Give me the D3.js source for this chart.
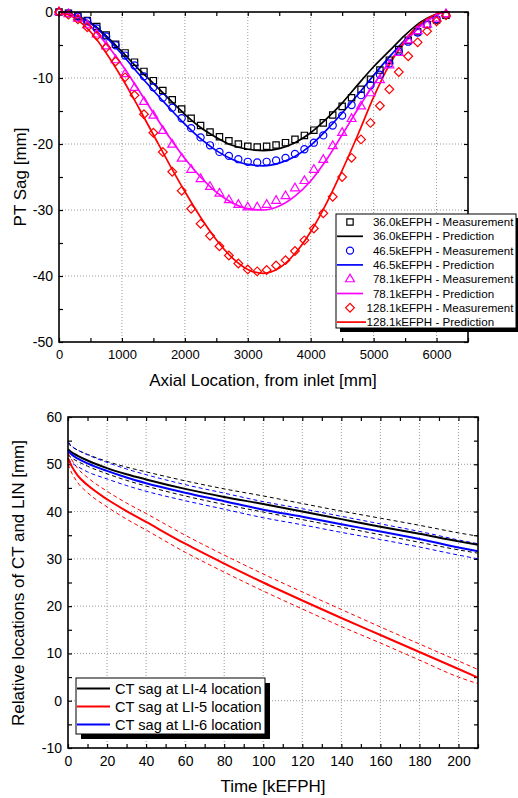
<!DOCTYPE html>
<html>
<head>
<meta charset="utf-8">
<script src="https://cdn.jsdelivr.net/npm/d3@7"></script>
<style>
  body { margin: 0; background: #fff; }
  svg { display: block; font-family: "Liberation Sans", Arial, sans-serif; }
  svg text { font-family: "Liberation Sans", Arial, sans-serif; }
  .grid line { stroke: #9a9a9a; stroke-width: 1; stroke-dasharray: 1,2; }
  .axis path { display: none; }
  .axis line { stroke: #000; stroke-width: 1.2; }
</style>
</head>
<body>
<script>
// ---------- top chart data: PT sag along axial location ----------
const measX = [0, 150, 300, 450, 600, 750, 900, 1050, 1200, 1350, 1500, 1650, 1800, 1950, 2100,
  2250, 2400, 2550, 2700, 2850, 3000, 3150, 3300, 3450, 3600, 3750, 3900, 4050, 4200, 4350,
  4500, 4650, 4800, 4950, 5100, 5250, 5400, 5550, 5700, 5850, 6000, 6150];

const meas36 = [0, -0.2, -0.6, -1.3, -2.2, -3.5, -4.9, -6.2, -7.6, -9.0, -10.4, -11.9, -13.3, -14.7, -16.1,
  -17.2, -18.2, -18.9, -19.5, -20.0, -20.35, -20.45, -20.35, -20.15, -19.8, -19.3, -18.7, -17.9, -16.8, -15.6,
  -14.3, -13.0, -11.7, -10.2, -8.8, -7.3, -5.7, -4.3, -3.0, -1.9, -1.2, -0.5];
const meas46 = [0, -0.2, -0.7, -1.4, -2.5, -3.7, -5.05, -6.6, -8.1, -9.75, -11.4, -13.0, -14.5, -16.1, -17.6,
  -19.0, -20.2, -21.2, -21.8, -22.3, -22.7, -22.8, -22.7, -22.5, -22.1, -21.5, -20.8, -19.8, -18.7, -17.2,
  -15.7, -14.1, -12.6, -11.1, -9.5, -7.8, -6.0, -4.5, -3.1, -1.9, -1.1, -0.4];
const meas78 = [0, -0.3, -1.0, -2.0, -3.4, -5.2, -7.3, -9.4, -11.5, -13.6, -15.7, -18.0, -20.1, -22.2, -23.9,
  -25.3, -26.5, -27.5, -28.5, -29.2, -29.6, -29.6, -29.2, -28.6, -27.9, -26.7, -25.6, -23.9, -22.4, -20.3,
  -18.3, -16.2, -14.3, -12.3, -10.3, -8.1, -6.2, -4.3, -2.9, -1.9, -1.0, -0.3];
const meas128 = [0, -0.4, -1.1, -2.3, -3.6, -5.4, -7.5, -9.9, -12.6, -15.5, -18.3, -21.2, -24.2, -27.1, -29.8,
  -32.1, -33.9, -35.5, -36.9, -38.1, -39.0, -39.3, -39.1, -38.4, -37.6, -36.2, -34.6, -32.8, -30.5, -28.0,
  -25.0, -22.1, -19.3, -16.8, -14.2, -11.7, -9.1, -6.7, -4.6, -2.9, -1.4, -0.5];

const predX = [0, 250, 500, 750, 1000, 1250, 1500, 1750, 2000, 2250, 2500, 2750, 3000,
  3250, 3500, 3750, 4000, 4250, 4500, 4750, 5000, 5250, 5500, 5750, 6000, 6100];
const pred36 = [0, -0.5, -1.6, -3.6, -6.0, -8.5, -10.8, -13.2, -15.5, -17.5, -19.0, -20.2, -20.8,
  -21.0, -20.7, -19.8, -18.3, -16.2, -13.8, -11.0, -8.3, -5.9, -3.5, -1.5, -0.3, 0];
const pred46 = [0, -0.5, -1.7, -3.8, -6.4, -9.2, -11.9, -14.5, -17.0, -19.2, -21.0, -22.3, -23.1,
  -23.3, -22.9, -21.9, -20.2, -17.9, -15.3, -12.5, -9.6, -6.8, -4.2, -1.9, -0.4, 0];
const pred78 = [0, -0.6, -2.2, -4.8, -8.0, -11.6, -15.3, -18.9, -22.2, -25.0, -27.3, -28.9, -29.8,
  -30.0, -29.4, -27.9, -25.6, -22.4, -18.6, -14.7, -11.0, -7.6, -4.6, -2.1, -0.5, 0];
const pred128 = [0, -0.9, -3.0, -6.2, -10.0, -14.2, -18.6, -23.0, -27.2, -31.1, -34.5, -37.2, -39.0,
  -39.6, -38.8, -36.6, -33.3, -29.0, -24.0, -18.6, -12.9, -8.0, -4.3, -1.7, -0.3, 0];

const topXTicks = [0, 1000, 2000, 3000, 4000, 5000, 6000];
const topYTicks = [0, -10, -20, -30, -40, -50];

// ---------- bottom chart data: CT sag vs time ----------
const timeK = [0, 2, 5, 10, 20, 30, 40, 60, 80, 100, 120, 140, 160, 180, 200, 210];
const li4    = [53.2, 52.5, 51.8, 50.8, 49.2, 47.9, 46.8, 44.8, 43.1, 41.6, 40.0, 38.4, 36.8, 35.3, 33.7, 33.0];
const li4Hi  = [54.4, 53.7, 53.0, 52.1, 50.6, 49.4, 48.4, 46.5, 44.8, 43.3, 41.7, 40.1, 38.6, 37.1, 35.5, 34.8];
const li4Lo  = [52.0, 51.3, 50.6, 49.6, 48.0, 46.6, 45.4, 43.3, 41.5, 39.9, 38.3, 36.7, 35.1, 33.5, 31.9, 31.2];
const li5    = [51.3, 49.5, 47.6, 45.6, 42.6, 40.1, 37.8, 33.2, 29.0, 25.0, 21.2, 17.5, 13.9, 10.3, 6.7, 4.9];
const li5Hi  = [52.4, 50.9, 49.1, 47.2, 44.3, 41.8, 39.6, 35.0, 30.8, 26.8, 23.0, 19.3, 15.6, 12.0, 8.4, 6.6];
const li5Lo  = [50.0, 48.1, 46.1, 44.0, 41.0, 38.4, 36.1, 31.4, 27.2, 23.2, 19.4, 15.7, 12.2, 8.6, 5.0, 3.6];
const li6    = [52.9, 52.0, 51.2, 50.2, 48.6, 47.2, 46.0, 44.0, 42.2, 40.4, 38.9, 37.3, 35.8, 34.2, 32.4, 31.6];
const li6Hi  = [54.8, 53.8, 53.0, 52.0, 50.4, 49.0, 47.8, 45.7, 43.9, 42.1, 40.6, 39.0, 37.4, 35.8, 34.0, 33.2];
const li6Lo  = [51.2, 50.3, 49.5, 48.4, 46.9, 45.5, 44.3, 42.3, 40.5, 38.7, 37.2, 35.6, 34.1, 32.5, 30.8, 30.0];

const botXTicks = [0, 20, 40, 60, 80, 100, 120, 140, 160, 180, 200];
const botYTicks = [60, 50, 40, 30, 20, 10, 0, -10];

const FONT = "'Liberation Sans', Arial, sans-serif";

const svg = d3.select("body").append("svg")
    .attr("width", 518)
    .attr("height", 798);

// shared frame + axes helper
function drawFrame(g, x, y, xMinor, yMinor, xMajor, yMajor, xFont, yFont) {
    const [x0, x1] = x.range();
    const [y0, y1] = y.range();   // y0 bottom, y1 top

    // grid
    const grid = g.append("g").attr("class", "grid");
    grid.selectAll(".gv").data(xMajor.filter(d => x(d) > x0 + 1 && x(d) < x1 - 1)).join("line")
        .attr("x1", d => x(d)).attr("x2", d => x(d)).attr("y1", y0).attr("y2", y1);
    grid.selectAll(".gh").data(yMajor.filter(d => y(d) < y0 - 1 && y(d) > y1 + 1)).join("line")
        .attr("y1", d => y(d)).attr("y2", d => y(d)).attr("x1", x0).attr("x2", x1);

    // ticks pointing inward on all four sides
    g.append("g").attr("class", "axis").attr("transform", `translate(0,${y0})`)
        .call(d3.axisBottom(x).tickValues(xMinor).tickSizeInner(-4).tickSizeOuter(0).tickFormat(""));
    g.append("g").attr("class", "axis").attr("transform", `translate(0,${y1})`)
        .call(d3.axisTop(x).tickValues(xMinor).tickSizeInner(-4).tickSizeOuter(0).tickFormat(""));
    g.append("g").attr("class", "axis").attr("transform", `translate(${x0},0)`)
        .call(d3.axisLeft(y).tickValues(yMinor).tickSizeInner(-4).tickSizeOuter(0).tickFormat(""));
    g.append("g").attr("class", "axis").attr("transform", `translate(${x1},0)`)
        .call(d3.axisRight(y).tickValues(yMinor).tickSizeInner(-4).tickSizeOuter(0).tickFormat(""));

    // labels
    g.append("g").attr("transform", `translate(0,${y0})`)
        .call(d3.axisBottom(x).tickValues(xMajor).tickSize(0).tickPadding(8).tickFormat(d3.format("d")))
        .call(a => a.select(".domain").remove())
        .attr("font-family", FONT)
        .selectAll("text").style("font-size", xFont + "px").attr("fill", "#000");
    g.append("g").attr("transform", `translate(${x0},0)`)
        .call(d3.axisLeft(y).tickValues(yMajor).tickSize(0).tickPadding(6).tickFormat(d => d3.format("d")(d).replace("−", "-")))
        .call(a => a.select(".domain").remove())
        .attr("font-family", FONT)
        .selectAll("text").style("font-size", yFont + "px").attr("fill", "#000");
}

function drawBorder(g, x, y) {
    const [x0, x1] = x.range();
    const [y0, y1] = y.range();
    g.append("rect")
        .attr("x", x0).attr("y", y1)
        .attr("width", x1 - x0).attr("height", y0 - y1)
        .attr("fill", "none").attr("stroke", "#000").attr("stroke-width", 1.6);
}

// ================= TOP CHART =================
const xT = d3.scaleLinear().domain([0, 6500]).range([59, 468]);
const yT = d3.scaleLinear().domain([-50, 0]).range([342, 12]);
const gT = svg.append("g");

drawFrame(gT, xT, yT, d3.range(0, 6501, 500), d3.range(-50, 1, 5), topXTicks, topYTicks, 13, 14);

const topSeries = [
    { name: "36.0", color: "#000000", meas: meas36, pred: pred36, sym: "square" },
    { name: "46.5", color: "#0000ff", meas: meas46, pred: pred46, sym: "circle" },
    { name: "78.1", color: "#ff00ff", meas: meas78, pred: pred78, sym: "triangle" },
    { name: "128.1", color: "#ff0000", meas: meas128, pred: pred128, sym: "diamond" }
];

function markerPath(sym) {
    if (sym === "square") return d3.symbol(d3.symbolSquare, 40)();
    if (sym === "circle") return d3.symbol(d3.symbolCircle, 40)();
    if (sym === "triangle") return d3.symbol(d3.symbolTriangle, 34)();
    return d3.symbol(d3.symbolSquare, 38)();
}

const lineT = d3.line().curve(d3.curveMonotoneX);

topSeries.forEach(s => {
    gT.append("path")
        .attr("d", lineT(predX.map((v, i) => [xT(v), yT(s.pred[i])])))
        .attr("fill", "none").attr("stroke", s.color).attr("stroke-width", 1.7);
});

topSeries.forEach(s => {
    gT.append("g").selectAll("path").data(measX.map((v, i) => [v, s.meas[i]])).join("path")
        .attr("d", markerPath(s.sym))
        .attr("transform", d => `translate(${xT(d[0])},${yT(d[1])})` + (s.sym === "diamond" ? " rotate(45)" : ""))
        .attr("fill", "none").attr("stroke", s.color).attr("stroke-width", 1.2);
});

drawBorder(gT, xT, yT);

gT.append("text")
    .attr("x", 263).attr("y", 386)
    .attr("text-anchor", "middle")
    .style("font-size", "17px")
    .text("Axial Location, from inlet [mm]");

gT.append("text")
    .attr("transform", "translate(26,177) rotate(-90)")
    .attr("text-anchor", "middle")
    .style("font-size", "17px")
    .text("PT Sag [mm]");

// legend (top)
const legT = gT.append("g");
legT.append("rect").attr("x", 340).attr("y", 218).attr("width", 180).attr("height", 114).attr("fill", "#000");
legT.append("rect").attr("x", 336).attr("y", 214).attr("width", 180).attr("height", 114)
    .attr("fill", "#fff").attr("stroke", "#000").attr("stroke-width", 1);
const legRows = [];
topSeries.forEach(s => {
    legRows.push({ s, kind: "meas", label: "kEFPH - Measurement" });
    legRows.push({ s, kind: "pred", label: "kEFPH - Prediction" });
});
legRows.forEach((r, i) => {
    const cy = 222 + i * 14.3;
    if (r.kind === "meas") {
        legT.append("path")
            .attr("d", markerPath(r.s.sym))
            .attr("transform", `translate(350,${cy})` + (r.s.sym === "diamond" ? " rotate(45)" : ""))
            .attr("fill", "none").attr("stroke", r.s.color).attr("stroke-width", 1.2);
    } else {
        legT.append("line").attr("x1", 337).attr("x2", r.s.name === "128.1" ? 366 : 363)
            .attr("y1", cy).attr("y2", cy)
            .attr("stroke", r.s.color).attr("stroke-width", 1.7);
    }
    legT.append("text").attr("x", 395.5).attr("y", cy + 4)
        .attr("text-anchor", "end").style("font-size", "11.6px").text(r.s.name);
    legT.append("text").attr("x", 395.5).attr("y", cy + 4)
        .style("font-size", "11.6px").text(r.label);
});

// ================= BOTTOM CHART =================
const xB = d3.scaleLinear().domain([0, 210]).range([68, 478]);
const yB = d3.scaleLinear().domain([-10, 60]).range([748, 417]);
const gB = svg.append("g");

drawFrame(gB, xB, yB, d3.range(0, 211, 10), d3.range(-10, 61, 5), botXTicks, botYTicks, 14, 14);

const lineB = d3.line().curve(d3.curveMonotoneX);
const botSeries = [
    { name: "CT sag at LI-4 location", color: "#000000", mid: li4, hi: li4Hi, lo: li4Lo },
    { name: "CT sag at LI-5 location", color: "#ff0000", mid: li5, hi: li5Hi, lo: li5Lo },
    { name: "CT sag at LI-6 location", color: "#0000ff", mid: li6, hi: li6Hi, lo: li6Lo }
];

botSeries.forEach(s => {
    [s.hi, s.lo].forEach(arr => {
        gB.append("path")
            .attr("d", lineB(timeK.map((t, i) => [xB(t), yB(arr[i])])))
            .attr("fill", "none").attr("stroke", s.color).attr("stroke-width", 1)
            .attr("stroke-dasharray", "4,3");
    });
});
botSeries.forEach(s => {
    gB.append("path")
        .attr("d", lineB(timeK.map((t, i) => [xB(t), yB(s.mid[i])])))
        .attr("fill", "none").attr("stroke", s.color).attr("stroke-width", 2);
});

drawBorder(gB, xB, yB);

gB.append("text")
    .attr("x", 273).attr("y", 792)
    .attr("text-anchor", "middle")
    .style("font-size", "17px")
    .text("Time [kEFPH]");

gB.append("text")
    .attr("transform", "translate(24,583) rotate(-90)")
    .attr("text-anchor", "middle")
    .style("font-size", "17px")
    .text("Relative locations of CT and LIN [mm]");

// legend (bottom)
const legB = gB.append("g");
legB.append("rect").attr("x", 81).attr("y", 683).attr("width", 189).attr("height", 56).attr("fill", "#000");
legB.append("rect").attr("x", 76).attr("y", 678).attr("width", 189).attr("height", 56)
    .attr("fill", "#fff").attr("stroke", "#000").attr("stroke-width", 1);
botSeries.forEach((s, i) => {
    const cy = 688.5 + i * 18;
    legB.append("line").attr("x1", 77).attr("x2", 110).attr("y1", cy).attr("y2", cy)
        .attr("stroke", s.color).attr("stroke-width", 2);
    legB.append("text").attr("x", 115).attr("y", cy + 5)
        .style("font-size", "14.6px").text(s.name);
});
</script>
</body>
</html>
